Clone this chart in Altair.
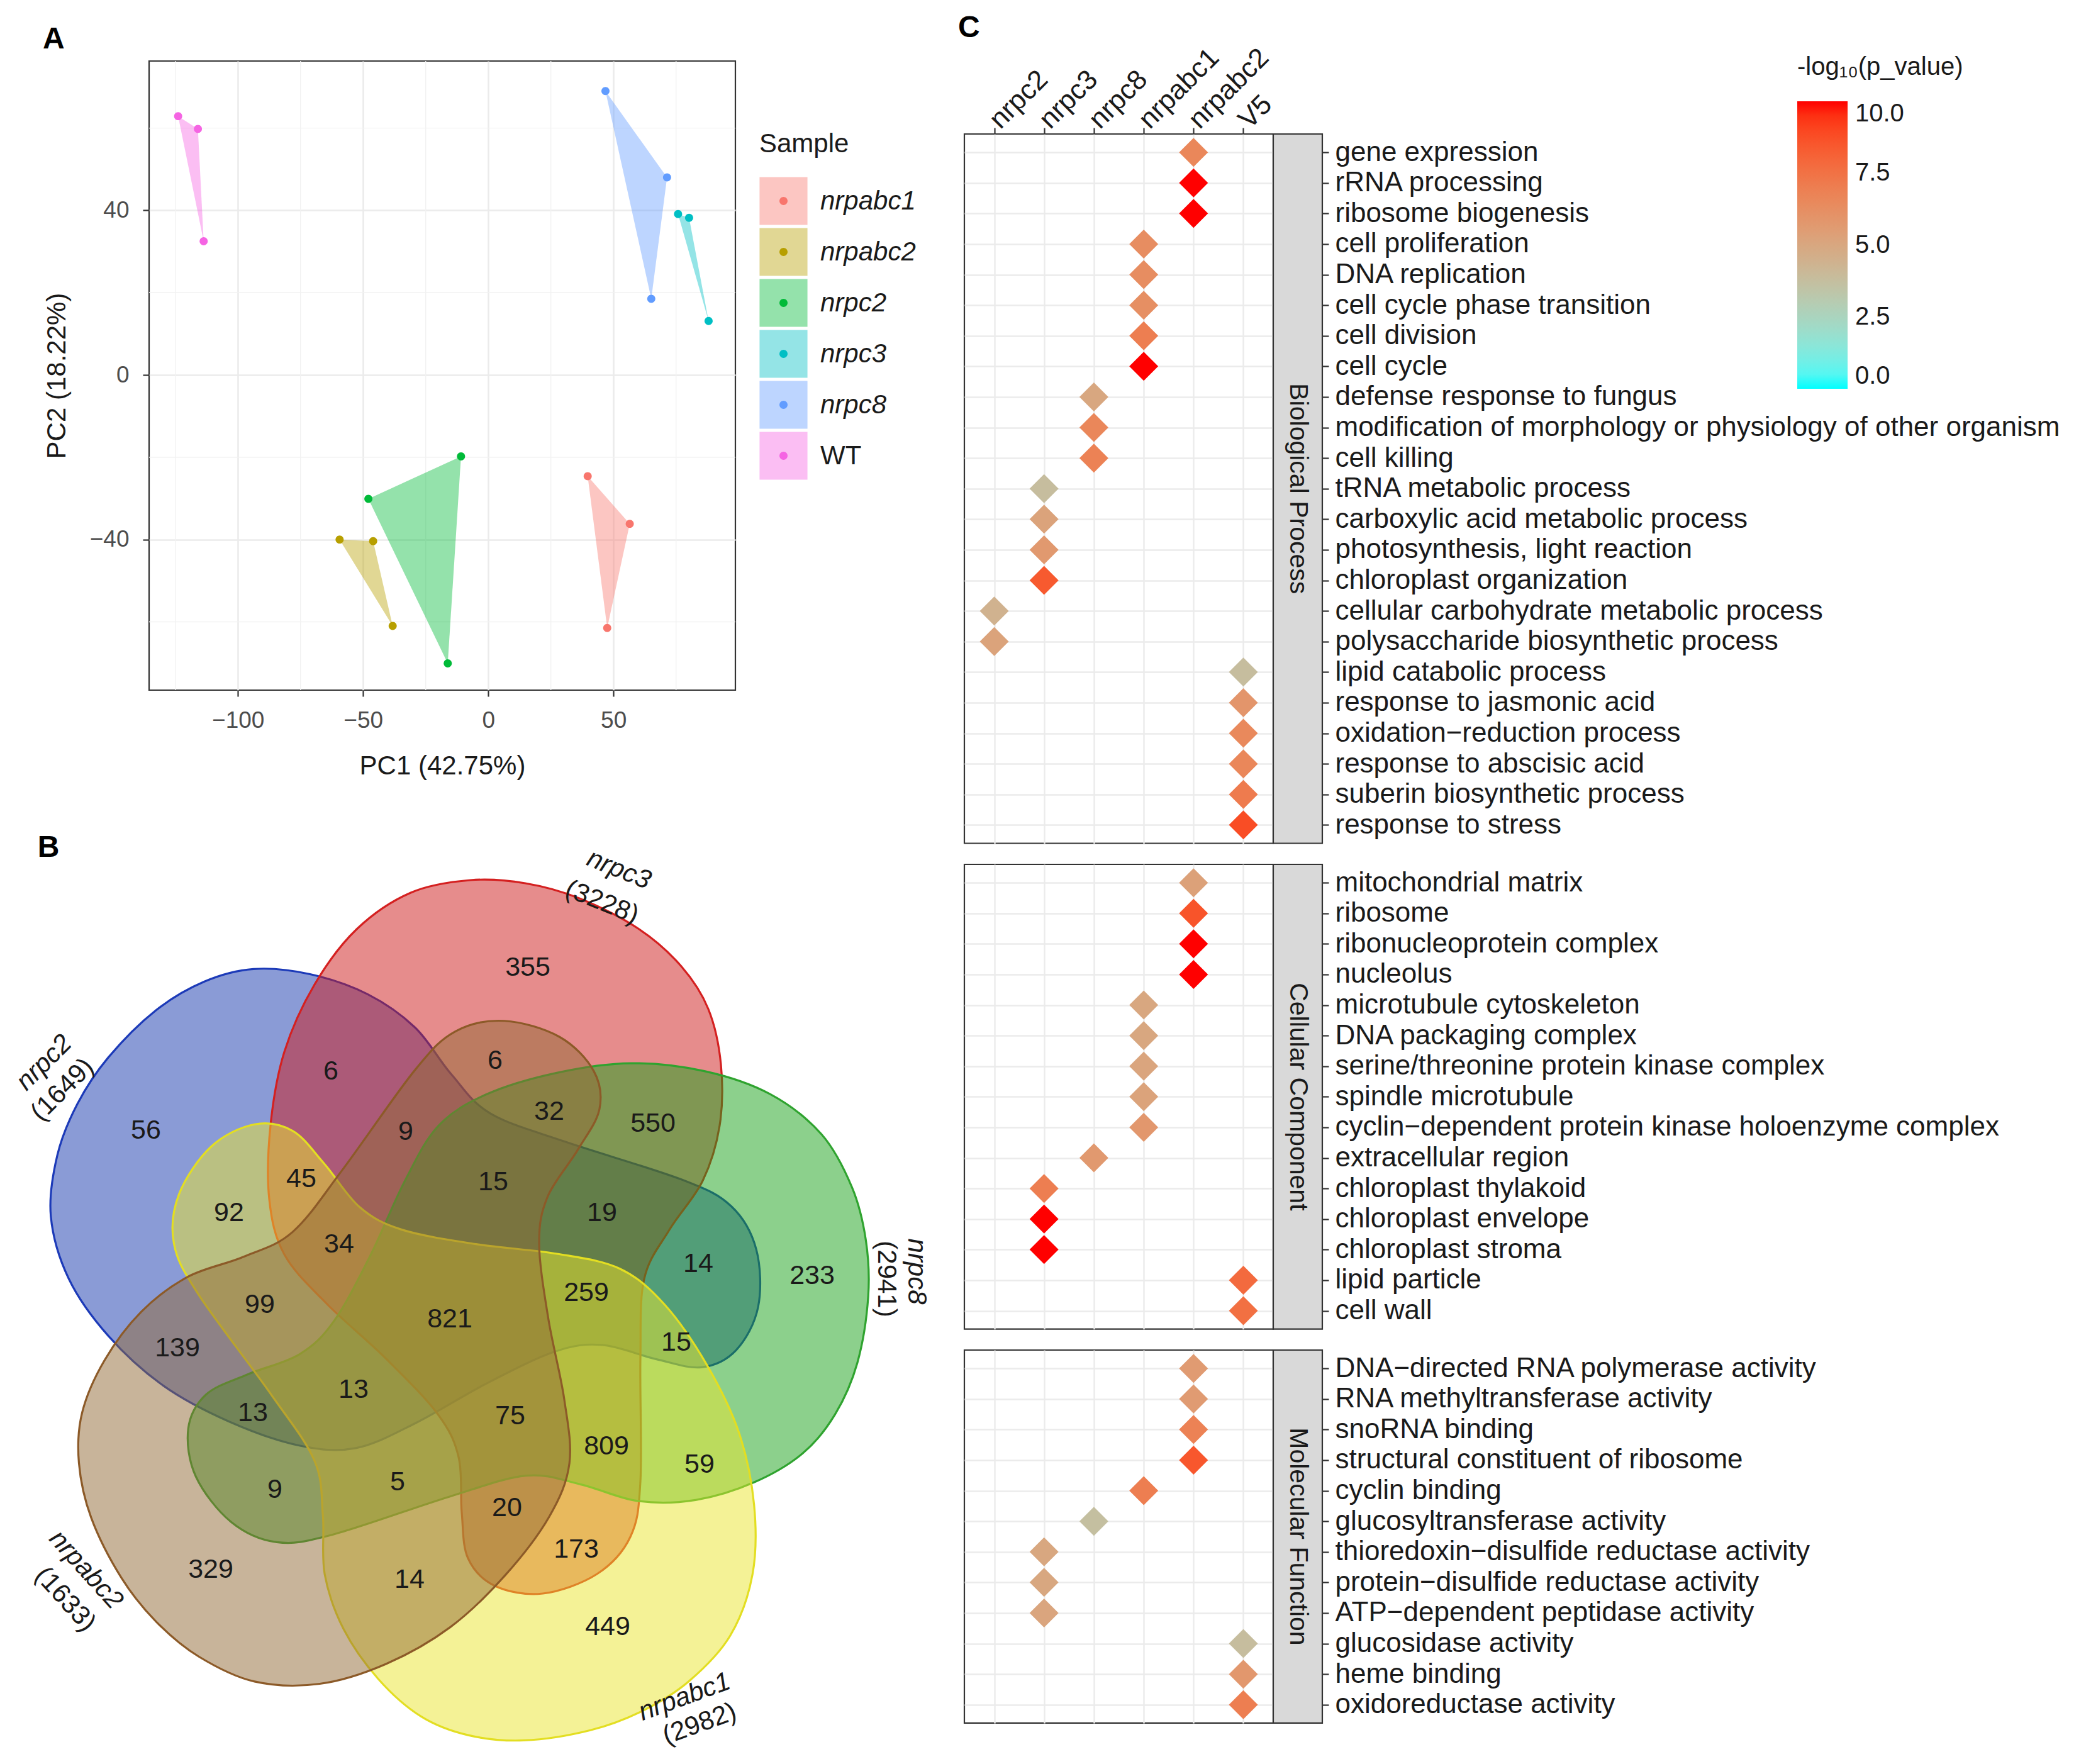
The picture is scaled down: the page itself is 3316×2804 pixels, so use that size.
import altair as alt
import pandas as pd
import numpy as np

FONT = "Liberation Sans"
INK = "#1A1A1A"
GRID = "#EBEBEB"
BORDER = "#333333"

# ---------------- Panel A : PCA ----------------
pca_sample = (["nrpabc1"] * 3 + ["nrpabc2"] * 3 + ["nrpc2"] * 3 +
              ["nrpc3"] * 3 + ["nrpc8"] * 3 + ["WT"] * 3)
pca_pc1 = [39.7, 56.5, 47.5, -59.4, -46.0, -38.2, -10.9, -47.9, -16.2,
           75.8, 80.2, 88.0, 46.8, 71.4, 65.1, -123.9, -116.0, -113.7]
pca_pc2 = [-24.6, -36.2, -61.5, -40.0, -40.4, -61.0, -19.8, -30.1, -70.1,
           39.1, 38.2, 13.1, 69.0, 48.0, 18.5, 62.9, 59.8, 32.5]
sample_levels = ["nrpabc1", "nrpabc2", "nrpc2", "nrpc3", "nrpc8", "WT"]
sample_colors = ["#F8766D", "#B79F00", "#00BA38", "#00BFC4", "#619CFF", "#F564E3"]
pc1_ticks = [-100, -50, 0, 50]
pc2_ticks = [-40, 0, 40]
pc1_minor = [-125, -75, -25, 25, 75]
pc2_minor = [-60, -20, 20, 60]

# ---------------- Panel B : Venn ----------------
venn_counts = [355, 6, 6, 32, 550, 56, 9, 45, 15, 92, 19, 34, 14, 233, 259, 99,
               821, 15, 139, 13, 13, 75, 809, 59, 9, 5, 20, 173, 329, 14, 449]
venn_sets = ["nrpc3", "nrpc8", "nrpabc1", "nrpabc2", "nrpc2"]
venn_set_sizes = [3228, 2941, 2982, 1633, 1649]

# layout of the Venn drawing (positions in the drawing frame, not data)
venn_label_u = [124, -189, 72, 158, 323, -483, -70, -236, 69, -351, 242, -176, 395, 576, 217, -302,
                0, 360, -433, -153, -313, 96, 249, 397, -278, -83, 91, 201, -380, -64, 251]
venn_label_v = [554, 389, 406, 325, 306, 295, 293, 218, 213, 164, 164, 114, 83, 64, 37, 18,
                -5, -42, -51, -117, -154, -159, -207, -236, -276, -264, -305, -371, -403, -419, -494]
set_name_u = [269, 742, 373, -578, -645]
set_name_v = [710, 71, -605, -403, 403]
set_count_u = [242, 694, 397, -611, -616]
set_count_v = [658, 59, -648, -450, 360]
set_label_angle = [22, 90, 340, 48, 315]
set_rotation = [0, -72, -144, -216, -288]
set_shift_u = [0, -30, 0, 35, 25]
set_shift_v = [0, 22, 0, 0, 10]
set_fill = ["#CD1919", "#19A119", "#E9E52D", "#916935", "#1537AD"]
set_stroke = ["#D42020", "#2FA32F", "#E3DE22", "#8C5A28", "#1C3AB8"]
draw_order = [4, 0, 1, 2, 3]
# one petal outline (the nrpc3 set); the others are the same petal turned by 72 degrees
petal_u = [33, 120, 206, 301, 368, 411, 431, 429, 402, 349, 309, 303, 303, 287, 234,
           148, 72, 29, 19, 14, -19, -101, -196, -263, -287, -285, -263, -215, -148, -62]
petal_v = [693, 688, 664, 615, 556, 488, 400, 303, 215, 137, 59, -68, -263, -351, -410,
           -441, -429, -385, -312, -224, -156, -68, 20, 98, 186, 303, 420, 527, 615, 673]

# ---------------- Panel C : GO enrichment ----------------
go_columns = ["nrpc2", "nrpc3", "nrpc8", "nrpabc1", "nrpabc2", "V5"]

bp_terms = ["gene expression", "rRNA processing", "ribosome biogenesis", "cell proliferation",
            "DNA replication", "cell cycle phase transition", "cell division", "cell cycle",
            "defense response to fungus",
            "modification of morphology or physiology of other organism", "cell killing",
            "tRNA metabolic process", "carboxylic acid metabolic process",
            "photosynthesis, light reaction", "chloroplast organization",
            "cellular carbohydrate metabolic process", "polysaccharide biosynthetic process",
            "lipid catabolic process", "response to jasmonic acid",
            "oxidation\u2212reduction process", "response to abscisic acid",
            "suberin biosynthetic process", "response to stress"]
bp_sample = ["nrpabc2"] * 3 + ["nrpabc1"] * 5 + ["nrpc8"] * 3 + ["nrpc3"] * 4 + ["nrpc2"] * 2 + ["V5"] * 6
bp_value = [6.6, 10.0, 10.0, 6.3, 6.3, 6.2, 7.0, 10.0, 5.0, 6.6, 6.8, 3.8, 5.2, 5.7, 8.4,
            4.4, 5.2, 3.8, 5.9, 6.5, 6.6, 7.1, 8.8]

cc_terms = ["mitochondrial matrix", "ribosome", "ribonucleoprotein complex", "nucleolus",
            "microtubule cytoskeleton", "DNA packaging complex",
            "serine/threonine protein kinase complex", "spindle microtubule",
            "cyclin\u2212dependent protein kinase holoenzyme complex", "extracellular region",
            "chloroplast thylakoid", "chloroplast envelope", "chloroplast stroma",
            "lipid particle", "cell wall"]
cc_sample = ["nrpabc2"] * 4 + ["nrpabc1"] * 5 + ["nrpc8"] + ["nrpc3"] * 3 + ["V5"] * 2
cc_value = [5.3, 8.6, 10.0, 10.0, 5.0, 5.0, 5.1, 5.2, 5.8, 5.7, 7.0, 10.0, 10.0, 7.8, 7.6]

mf_terms = ["DNA\u2212directed RNA polymerase activity", "RNA methyltransferase activity",
            "snoRNA binding", "structural constituent of ribosome", "cyclin binding",
            "glucosyltransferase activity", "thioredoxin\u2212disulfide reductase activity",
            "protein\u2212disulfide reductase activity", "ATP\u2212dependent peptidase activity",
            "glucosidase activity", "heme binding", "oxidoreductase activity"]
mf_sample = ["nrpabc2"] * 4 + ["nrpabc1"] + ["nrpc8"] + ["nrpc3"] * 3 + ["V5"] * 3
mf_value = [5.6, 5.6, 6.8, 8.5, 7.0, 3.7, 5.0, 5.0, 5.1, 3.8, 5.8, 7.0]

pvalue_ticks = [0, 2.5, 5, 7.5, 10]

# ================= build panel A =================
A_W, A_H = 932, 1000
dfA = pd.DataFrame({"sample": pca_sample, "PC1": pca_pc1, "PC2": pca_pc2,
                    "vertex": [0, 1, 2] * 6})
dot_suffix = "\u200b"
dfA["sample_dot"] = dfA["sample"] + dot_suffix
xA = alt.Scale(domain=[-135.5, 98.7], nice=False, zero=False)
yA = alt.Scale(domain=[-76.6, 76.3], nice=False, zero=False)
colA = alt.Scale(domain=sample_levels, range=sample_colors)
colDot = alt.Scale(domain=[s + dot_suffix for s in sample_levels], range=sample_colors)

common_axis = dict(grid=True, gridColor=GRID, gridWidth=2.6, tickColor=BORDER, tickWidth=2.2,
                   tickSize=10, labelFontSize=37, labelColor="#4D4D4D", titleFontSize=42,
                   titleColor=INK, titleFontWeight="normal", domain=False)
axX = alt.Axis(values=pc1_ticks, title="PC1 (42.75%)", labelPadding=20, titlePadding=34, **common_axis)
axY = alt.Axis(values=pc2_ticks, title="PC2 (18.22%)", labelPadding=22, titlePadding=30, **common_axis)

KEY_SIZE = 5800
LEG_X, LEG_Y = 970, 112
leg_keys = alt.Legend(orient="none", legendX=LEG_X, legendY=LEG_Y, title="Sample",
                      symbolType="square", symbolSize=KEY_SIZE, symbolOpacity=0.42, symbolStrokeWidth=0,
                      labelFontSize=42,
                      labelFontStyle=alt.ExprRef("datum.value === 'WT' ? 'normal' : 'italic'"),
                      labelColor=INK, titleFontSize=42,
                      titleFontWeight="normal", titleColor=INK, titlePadding=30, rowPadding=4,
                      labelOffset=20, labelLimit=1000)
# point glyph: a small disc inside an (undrawn) key-sized frame, so legend rows keep the key height
dot_path = ("M -1,-1 M 1,1 M -0.17,0 A 0.17,0.17 0 1,0 0.17,0 "
            "A 0.17,0.17 0 1,0 -0.17,0 Z")
leg_dots = alt.Legend(orient="none", legendX=LEG_X, legendY=LEG_Y + 72, title=None,
                      symbolType=dot_path, symbolSize=KEY_SIZE, symbolStrokeWidth=0, symbolOpacity=1,
                      labelExpr="''", labelFontSize=42, rowPadding=4, labelOffset=20)

minor_x = alt.Chart(pd.DataFrame({"v": pc1_minor})).mark_rule(color="#F2F2F2", strokeWidth=1.4).encode(
    x=alt.X("v:Q", scale=xA, axis=axX))
minor_y = alt.Chart(pd.DataFrame({"v": pc2_minor})).mark_rule(color="#F2F2F2", strokeWidth=1.4).encode(
    y=alt.Y("v:Q", scale=yA, axis=axY))
polys = alt.Chart(dfA).mark_line(interpolate="linear-closed", strokeOpacity=0, fillOpacity=0.42).encode(
    x=alt.X("PC1:Q", scale=xA, axis=axX),
    y=alt.Y("PC2:Q", scale=yA, axis=axY),
    fill=alt.Fill("sample:N", scale=colA, legend=leg_keys),
    detail="sample:N",
    order="vertex:Q")
pts = alt.Chart(dfA).mark_point(shape=dot_path, filled=True, size=KEY_SIZE, opacity=1,
                                strokeWidth=0).encode(
    x=alt.X("PC1:Q", scale=xA, axis=axX),
    y=alt.Y("PC2:Q", scale=yA, axis=axY),
    color=alt.Color("sample_dot:N", scale=colDot, legend=leg_dots))
panelA = alt.layer(minor_x, minor_y, polys, pts).properties(
    width=A_W, height=A_H,
    title=alt.TitleParams("A", anchor="start", frame="group", dx=-169, offset=-29,
                          baseline="alphabetic", fontSize=48, fontWeight="bold", color="black"))

# ================= build panel B =================
B_W, B_H = 1225, 1500
xB = alt.Scale(domain=[-478, 747], nice=False, zero=False)
yB = alt.Scale(domain=[-710, 790], nice=False, zero=False)
pu = np.array(petal_u, dtype=float)
pv = np.array(petal_v, dtype=float)
venn_layers = []
for k in draw_order:
    a = np.deg2rad(set_rotation[k])
    u = pu * np.cos(a) - pv * np.sin(a) + set_shift_u[k]
    v = pu * np.sin(a) + pv * np.cos(a) + set_shift_v[k]
    dfk = pd.DataFrame({"u": u, "v": v, "i": np.arange(len(u))})
    venn_layers.append(
        alt.Chart(dfk).mark_line(interpolate="cardinal-closed", fill=set_fill[k], fillOpacity=0.5,
                                 stroke=set_stroke[k], strokeWidth=3.2).encode(
            x=alt.X("u:Q", scale=xB, axis=None),
            y=alt.Y("v:Q", scale=yB, axis=None),
            order="i:Q"))
df_counts = pd.DataFrame({"u": venn_label_u, "v": venn_label_v, "n": venn_counts})
count_text = alt.Chart(df_counts).mark_text(fontSize=43, color=INK, baseline="middle").encode(
    x=alt.X("u:Q", scale=xB, axis=None), y=alt.Y("v:Q", scale=yB, axis=None), text="n:Q")
df_sets = pd.DataFrame({"nu": set_name_u, "nv": set_name_v, "cu": set_count_u, "cv": set_count_v,
                        "name": venn_sets, "size": ["(%d)" % s for s in venn_set_sizes],
                        "ang": set_label_angle})
name_text = alt.Chart(df_sets).mark_text(fontSize=42, fontStyle="italic", color=INK, baseline="middle").encode(
    x=alt.X("nu:Q", scale=xB, axis=None), y=alt.Y("nv:Q", scale=yB, axis=None),
    text="name:N", angle=alt.Angle("ang:Q", scale=None))
size_text = alt.Chart(df_sets).mark_text(fontSize=42, color=INK, baseline="middle").encode(
    x=alt.X("cu:Q", scale=xB, axis=None), y=alt.Y("cv:Q", scale=yB, axis=None),
    text="size:N", angle=alt.Angle("ang:Q", scale=None))
letterB = alt.Chart(pd.DataFrame({"u": [-638], "v": [744], "t": ["B"]})).mark_text(
    fontSize=48, fontWeight="bold", color="black", baseline="middle").encode(
    x=alt.X("u:Q", scale=xB, axis=None), y=alt.Y("v:Q", scale=yB, axis=None), text="t:N")
panelB = alt.layer(*venn_layers, count_text, name_text, size_text, letterB).properties(
    width=B_W, height=B_H, view=alt.ViewBackground(stroke="transparent"))

# ================= build panel C =================
C_W = 491
STEP = 48.6
STRIP = 78
cscale = alt.Scale(domain=[0, 10], range=["#00FFFF", "#FF0000"], interpolate="lab")


def go_panel(terms, samples, values, strip_label, first):
    n = len(terms)
    H = STEP * (n - 1 + 1.2)
    df = pd.DataFrame({"term": terms, "sample": samples, "value": values})
    if first:
        xaxis = alt.Axis(orient="top", title=None, labelAngle=315, labelAlign="left",
                         labelBaseline="middle", labelFontSize=44, labelColor=INK, labelPadding=6,
                         tickSize=10, tickColor=BORDER, tickWidth=2.2, domain=False,
                         grid=True, gridColor=GRID, gridWidth=2.4)
        leg = alt.Legend(title="-log\u2081\u2080(p_value)", orient="none", legendX=1324, legendY=-126,
                         direction="vertical", gradientLength=457, gradientThickness=80,
                         values=pvalue_ticks, format=".1f", labelFontSize=40, labelColor=INK,
                         titleFontSize=40, titleFontWeight="normal", titleColor=INK,
                         titlePadding=34, labelOffset=12, titleLimit=1000, gradientStrokeWidth=0)
    else:
        xaxis = alt.Axis(orient="top", title=None, labels=False, ticks=False, domain=False,
                         grid=True, gridColor=GRID, gridWidth=2.4)
        leg = None
    yaxis = alt.Axis(orient="right", offset=STRIP, title=None, labelFontSize=44, labelColor=INK,
                     labelPadding=10, labelLimit=3000, tickSize=10, tickColor=BORDER, tickWidth=2.2,
                     domain=False, grid=True, gridColor=GRID, gridWidth=2.4)
    diamonds = alt.Chart(df).mark_point(shape="diamond", filled=True, size=2116, opacity=1).encode(
        x=alt.X("sample:N", scale=alt.Scale(type="point", domain=go_columns, padding=0.6), axis=xaxis),
        y=alt.Y("term:N", scale=alt.Scale(type="point", domain=terms, padding=0.6), axis=yaxis),
        color=alt.Color("value:Q", scale=cscale, legend=leg))
    strip_df = pd.DataFrame({"t": [strip_label]})
    strip_rect = alt.Chart(strip_df).mark_rect(fill="#D9D9D9", stroke=BORDER, strokeWidth=2.2).encode(
        x=alt.value(C_W), x2=alt.value(C_W + STRIP), y=alt.value(0), y2=alt.value(H))
    strip_text = alt.Chart(strip_df).mark_text(angle=90, fontSize=41, color=INK, baseline="middle").encode(
        x=alt.value(C_W + STRIP / 2), y=alt.value(H / 2), text="t:N")
    return alt.layer(diamonds, strip_rect, strip_text).properties(width=C_W, height=H)


bp = go_panel(bp_terms, bp_sample, bp_value, "Biological Process", True)
cc = go_panel(cc_terms, cc_sample, cc_value, "Cellular Component", False)
mf = go_panel(mf_terms, mf_sample, mf_value, "Molecular Function", False)

spacer = alt.Chart(pd.DataFrame({"t": [""]})).mark_text().encode(text="t:N").properties(
    width=C_W, height=83, view=alt.ViewBackground(stroke="transparent"),
    title=alt.TitleParams("C", anchor="start", frame="group", dx=-10, offset=-10,
                          baseline="alphabetic", fontSize=48, fontWeight="bold", color="black"))

left = alt.vconcat(panelA, panelB, spacing=205, bounds="flush")
right = alt.vconcat(spacer, bp, cc, mf, spacing=33, bounds="flush").resolve_scale(color="independent")

chart = alt.hconcat(left, right, spacing=1296, bounds="flush").resolve_scale(
    color="independent", fill="independent", stroke="independent"
).properties(
    padding={"left": 8, "top": 12, "right": 4, "bottom": 4},
    background="white"
).configure_view(
    stroke=BORDER, strokeWidth=2.2
).configure_axis(
    labelFont=FONT, titleFont=FONT
).configure_legend(
    labelFont=FONT, titleFont=FONT
).configure_text(
    font=FONT
).configure_title(
    font=FONT
)

chart.save("out.html", embed_options={"renderer": "svg", "actions": False})
